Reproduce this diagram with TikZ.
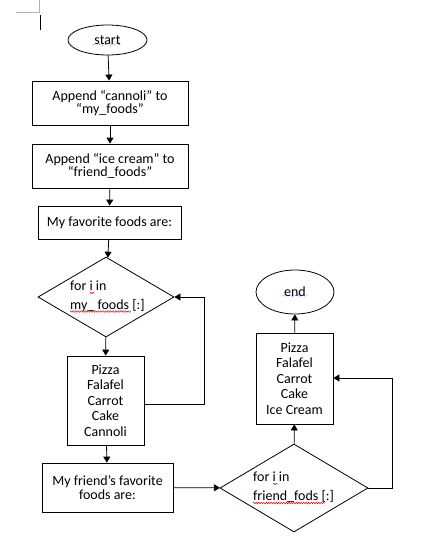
\documentclass[tikz,border=0pt]{standalone}
\usepackage{fontspec}
\setmainfont{Carlito}
\usetikzlibrary{shapes.geometric,arrows.meta,decorations.pathmorphing}
\tikzset{
  every node/.style={font=\fontsize{14}{13.5}\selectfont, inner sep=0pt},
  stepbox/.style={draw, line width=0.8pt, rectangle, align=center},
  term/.style={draw, line width=0.8pt, ellipse},
  decide/.style={draw, line width=0.8pt, diamond},
  conn/.style={line width=0.8pt, -{Triangle[length=6pt,width=7pt]}},
  spell/.style={red, line width=0.5pt, decorate, decoration={snake, amplitude=0.8pt, segment length=2.5pt}},
  spellb/.style={blue, line width=0.5pt, dotted, decorate, decoration={snake, amplitude=0.8pt, segment length=2.5pt}}
}
\begin{document}
\begin{tikzpicture}[x=1pt,y=-1pt]
\useasboundingbox (0,0) rectangle (425,544);
% page corner marks
\draw[gray!60, line width=0.6pt] (16,12) -- (39.3,12) -- (39.3,0);
\draw[line width=0.8pt] (40.7,15) -- (40.7,30);

\node[term, minimum width=79pt, minimum height=30pt] (start) at (107.5,40) {start};
\node[stepbox, minimum width=156pt, minimum height=44pt] (b1) at (110,103) {Append “cannoli” to\\“my\_foods”};
\node[stepbox, minimum width=156pt, minimum height=44pt] (b2) at (110,166) {Append “ice cream” to\\“friend\_foods”};
\node[stepbox, minimum width=143pt, minimum height=33pt] (b3) at (109.5,222.5) {My favorite foods are:};
\node[decide, minimum width=136pt, minimum height=80pt] (d1) at (106,297) {};
\node[anchor=west, align=left] (d1t) at (70,296) {for i in\\[5.5pt]my\_ foods [:]};
\node[stepbox, minimum width=77pt, minimum height=89pt, font=\fontsize{14}{15.5}\selectfont] (b4) at (105.5,400.5) {Pizza\\Falafel\\Carrot\\Cake\\Cannoli};
\node[stepbox, minimum width=131pt, minimum height=49pt] (b5) at (107.5,487.5) {My friend’s favorite\\foods are:};
\node[decide, minimum width=148pt, minimum height=88pt] (d2) at (294,488) {};
\node[anchor=west, align=left] (d2t) at (253,487) {for i in\\[5.5pt]friend\_fods [:]};
\node[stepbox, minimum width=77pt, minimum height=91pt, font=\fontsize{14}{15.5}\selectfont] (b6) at (294.5,378.5) {Pizza\\Falafel\\Carrot\\Cake\\Ice Cream};
\node[term, minimum width=78pt, minimum height=44pt] (end) at (295,292) {end};

\coordinate (l1a) at (204,404);
\coordinate (l1b) at (204,297);
\coordinate (l2a) at (392,488);
\coordinate (l2b) at (392,378);

\draw[conn] (start) -- (b1);
\draw[conn] (b1) -- (b2);
\draw[conn] (b2) -- (b3);
\draw[conn] (b3) -- (d1);
\draw[conn] (d1) -- (b4);
\draw[line width=0.8pt] (b4.east |- l1a) -- (l1a) -- (l1b);
\draw[conn] (l1b) -- (d1.east);
\draw[conn] (b4) -- (b5);
\draw[conn] (b5) -- (d2);
\draw[conn] (d2) -- (b6);
\draw[conn] (b6) -- (end);
\draw[line width=0.8pt] (d2.east) -- (l2a) -- (l2b);
\draw[conn] (l2b) -- (b6.east |- l2b);

% spelling squiggles
\draw[spellb] (93,44.5) -- (121,44.5);
\draw[spellb] (283,295.5) -- (307,295.5);
\draw[spell] (90,293) -- (94.5,293);
\draw[spell] (70,311.5) -- (131,311.5);
\draw[spell] (273,484) -- (277.5,484);
\draw[spell] (253,503) -- (325,503);
\end{tikzpicture}
\end{document}
